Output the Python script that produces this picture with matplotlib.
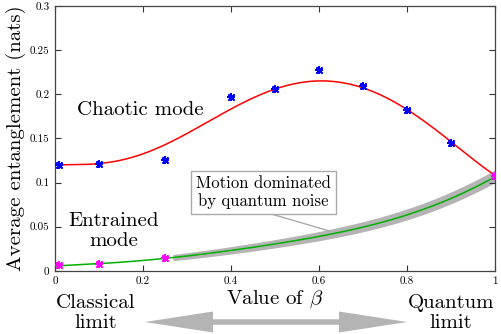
import numpy as np
import matplotlib
matplotlib.use("Agg")
import matplotlib.pyplot as plt
from matplotlib.patches import FancyArrow

plt.rcParams['font.family'] = ['cmr10', 'DejaVu Serif']
plt.rcParams['mathtext.fontset'] = 'cm'
plt.rcParams['axes.formatter.use_mathtext'] = True

# simulated points
beta_pts = [0.01, 0.1, 0.25, 0.4, 0.5, 0.6, 0.7, 0.8, 0.9, 1.0]
chaotic_pts = [0.120, 0.121, 0.1255, 0.197, 0.206, 0.228, 0.209, 0.182, 0.145, 0.107]
entrained_beta = [0.01, 0.1, 0.25, 1.0]
entrained_pts = [0.0063, 0.0078, 0.0142, 0.107]

# fitted curves
curve_beta = [0.0, 0.05, 0.1, 0.15, 0.2, 0.25, 0.3, 0.35, 0.4, 0.45, 0.5,
              0.55, 0.6, 0.65, 0.7, 0.75, 0.8, 0.85, 0.9, 0.95, 1.0]
chaotic_fit = [0.120, 0.120, 0.1215, 0.126, 0.133, 0.142, 0.155, 0.170, 0.184, 0.196, 0.206,
               0.212, 0.215, 0.213, 0.208, 0.197, 0.183, 0.165, 0.146, 0.127, 0.108]
entrained_fit = [0.0055, 0.0068, 0.0082, 0.0098, 0.0118, 0.0142, 0.0168, 0.0198, 0.0232, 0.0268, 0.0305,
                 0.0345, 0.0390, 0.0440, 0.0495, 0.0560, 0.0635, 0.0720, 0.0820, 0.0935, 0.1065]

xtick_vals = [0, 0.2, 0.4, 0.6, 0.8, 1]
xtick_labels = ["0", "0.2", "0.4", "0.6", "0.8", "1"]
ytick_vals = [0, 0.05, 0.1, 0.15, 0.2, 0.25, 0.3]
ytick_labels = ["0", "0.05", "0.1", "0.15", "0.2", "0.25", "0.3"]

fig = plt.figure(figsize=(5.02, 3.34), dpi=100)
ax = fig.add_axes([0.1096, 0.189, 0.8765, 0.793])

# smooth the read curve samples for drawing
xs = np.linspace(0, 1, 300)
red_s = np.polyval(np.polyfit(curve_beta, chaotic_fit, 8), xs)
green_s = np.polyval(np.polyfit(curve_beta, entrained_fit, 6), xs)

# grey band along the quantum-noise dominated part
m = xs >= 0.265
xb = xs[m]
yb = green_s[m]
t = (xb - 0.265) / 0.735
ax.fill_between(xb, yb - 0.0035 - 0.003 * t, yb + 0.0035 + 0.0045 * t,
                color='#b4b4b4', lw=0, zorder=1)

ax.plot(xs, red_s, color='red', lw=1.1, zorder=2)
ax.plot(xs, green_s, color='#00b000', lw=1.1, zorder=2)

for mk in [(4, 2, 0), (4, 2, 45)]:
    ax.plot(beta_pts, chaotic_pts, ls='none', marker=mk, ms=6, mew=1.3,
            color='blue', zorder=3)
    ax.plot(entrained_beta, entrained_pts, ls='none', marker=mk, ms=6, mew=1.3,
            color='magenta', zorder=3)

ax.set_xlim(0, 1)
ax.set_ylim(0, 0.3)
ax.set_xticks(xtick_vals)
ax.set_xticklabels(xtick_labels)
ax.set_yticks(ytick_vals)
ax.set_yticklabels(ytick_labels)
ax.tick_params(direction='in', length=4, width=0.8, labelsize=8,
               top=True, right=True, color='#333333', pad=4)
for s in ax.spines.values():
    s.set_color('#444444')
    s.set_linewidth(0.9)

ax.set_ylabel("Average entanglement (nats)", fontsize=15, labelpad=3)

ax.text(0.193, 0.182, "Chaotic mode", fontsize=15, ha='center', va='center')
ax.text(0.134, 0.045, "Entrained\nmode", fontsize=15, ha='center', va='center',
        linespacing=1.1)

ax.annotate("Motion dominated\nby quantum noise", xy=(0.625, 0.045),
            xytext=(0.473, 0.089), fontsize=12, ha='center', va='center',
            linespacing=1.1,
            bbox=dict(boxstyle='square,pad=0.3', fc='white', ec='#aaaaaa', lw=1),
            arrowprops=dict(arrowstyle='-', color='#aaaaaa', lw=1,
                            shrinkA=0, shrinkB=0,
                            relpos=(0.42, 0.0)))

W, H = 502.0, 334.0
fig.text(275 / W, 1 - 299 / H, r"Value of $\beta$", fontsize=15, ha='center', va='center')
fig.text(96 / W, 1 - 313 / H, "Classical\nlimit", fontsize=15, ha='center', va='center',
         linespacing=1.15)
fig.text(451 / W, 1 - 313 / H, "Quantum\nlimit", fontsize=15, ha='center', va='center',
         linespacing=1.15)

# double arrow
yc = 1 - 322 / H
mid = 276 / W
for tip in (145 / W, 407 / W):
    fig.patches.append(FancyArrow(mid, yc, tip - mid, 0, width=5.5 / H,
                                  head_width=21 / H, head_length=68 / W,
                                  length_includes_head=True, color='#b4b4b4',
                                  lw=0, transform=fig.transFigure, figure=fig))

fig.savefig("out.png", dpi=100)
